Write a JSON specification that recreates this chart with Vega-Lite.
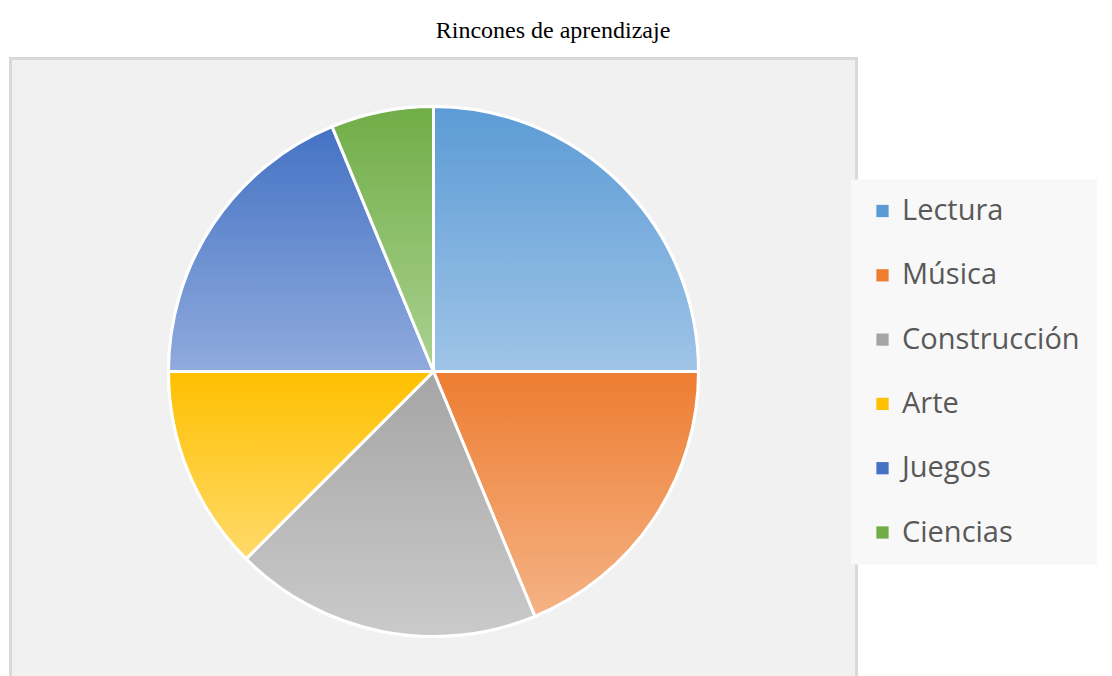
{
  "$schema": "https://vega.github.io/schema/vega-lite/v6.json",
  "width": 846,
  "height": 626,
  "padding": {"left": 8.5, "top": 18.5, "right": 0, "bottom": 0},
  "background": "white",
  "title": {
    "text": "Rincones de aprendizaje",
    "font": "Liberation Serif",
    "fontSize": 24,
    "fontWeight": "normal",
    "color": "#000000",
    "anchor": "middle",
    "frame": "bounds",
    "offset": 14
  },
  "datasets": {
    "rincones": [
      {"rincon": "Lectura", "valor": 4},
      {"rincon": "Música", "valor": 3},
      {"rincon": "Construcción", "valor": 3},
      {"rincon": "Arte", "valor": 2},
      {"rincon": "Juegos", "valor": 3},
      {"rincon": "Ciencias", "valor": 1}
    ],
    "fondo": [{"zona": "grafico"}]
  },
  "layer": [
    {
      "data": {"name": "fondo"},
      "mark": {"type": "rect", "fill": "#f1f1f1", "stroke": "#d9d9d9", "strokeWidth": 3},
      "encoding": {}
    },
    {
      "data": {"name": "rincones"},
      "transform": [
        {"stack": "valor", "groupby": [], "as": ["inicio", "fin"]}
      ],
      "encoding": {
        "theta": {"field": "inicio", "type": "quantitative", "scale": {"domain": [0, 16]}},
        "theta2": {"field": "fin"}
      },
      "layer": [
        {
          "mark": {"type": "arc", "radius": 265, "stroke": "white", "strokeWidth": 3},
          "encoding": {
            "color": {
              "field": "rincon",
              "type": "nominal",
              "scale": {
                "domain": ["Lectura", "Música", "Construcción", "Arte", "Juegos", "Ciencias"],
                "range": ["#5b9bd5", "#ed7d31", "#a5a5a5", "#ffc000", "#4472c4", "#70ad47"]
              },
              "legend": {
                "title": null,
                "orient": "none",
                "legendX": 840.5,
                "legendY": 121,
                "fillColor": "#f8f8f8",
                "padding": 17,
                "symbolType": "square",
                "symbolSize": 150,
                "symbolStrokeWidth": 0,
                "labelFont": "Open Sans",
                "labelFontSize": 29,
                "labelColor": "#595959",
                "labelOffset": 5,
                "labelLimit": 400,
                "rowPadding": 34.3
              }
            }
          }
        },
        {
          "transform": [{"filter": "datum.rincon === 'Lectura'"}],
          "mark": {"type": "arc", "radius": 265, "stroke": "white", "strokeWidth": 3,
            "color": {"gradient": "linear", "x1": 0, "y1": 0, "x2": 0, "y2": 1,
              "stops": [{"offset": 0, "color": "#5b9bd5"}, {"offset": 1, "color": "#9fc4e7"}]}},
          "encoding": {}
        },
        {
          "transform": [{"filter": "datum.rincon === 'Música'"}],
          "mark": {"type": "arc", "radius": 265, "stroke": "white", "strokeWidth": 3,
            "color": {"gradient": "linear", "x1": 0, "y1": 0, "x2": 0, "y2": 1,
              "stops": [{"offset": 0, "color": "#ed7d31"}, {"offset": 1, "color": "#f5b386"}]}},
          "encoding": {}
        },
        {
          "transform": [{"filter": "datum.rincon === 'Construcción'"}],
          "mark": {"type": "arc", "radius": 265, "stroke": "white", "strokeWidth": 3,
            "color": {"gradient": "linear", "x1": 0, "y1": 0, "x2": 0, "y2": 1,
              "stops": [{"offset": 0, "color": "#a5a5a5"}, {"offset": 1, "color": "#cacaca"}]}},
          "encoding": {}
        },
        {
          "transform": [{"filter": "datum.rincon === 'Arte'"}],
          "mark": {"type": "arc", "radius": 265, "stroke": "white", "strokeWidth": 3,
            "color": {"gradient": "linear", "x1": 0, "y1": 0, "x2": 0, "y2": 1,
              "stops": [{"offset": 0, "color": "#ffc000"}, {"offset": 1, "color": "#ffda6a"}]}},
          "encoding": {}
        },
        {
          "transform": [{"filter": "datum.rincon === 'Juegos'"}],
          "mark": {"type": "arc", "radius": 265, "stroke": "white", "strokeWidth": 3,
            "color": {"gradient": "linear", "x1": 0, "y1": 0, "x2": 0, "y2": 1,
              "stops": [{"offset": 0, "color": "#4472c4"}, {"offset": 1, "color": "#90abdd"}]}},
          "encoding": {}
        },
        {
          "transform": [{"filter": "datum.rincon === 'Ciencias'"}],
          "mark": {"type": "arc", "radius": 265, "stroke": "white", "strokeWidth": 3,
            "color": {"gradient": "linear", "x1": 0, "y1": 0, "x2": 0, "y2": 1,
              "stops": [{"offset": 0, "color": "#70ad47"}, {"offset": 1, "color": "#abd290"}]}},
          "encoding": {}
        }
      ]
    }
  ]
}
